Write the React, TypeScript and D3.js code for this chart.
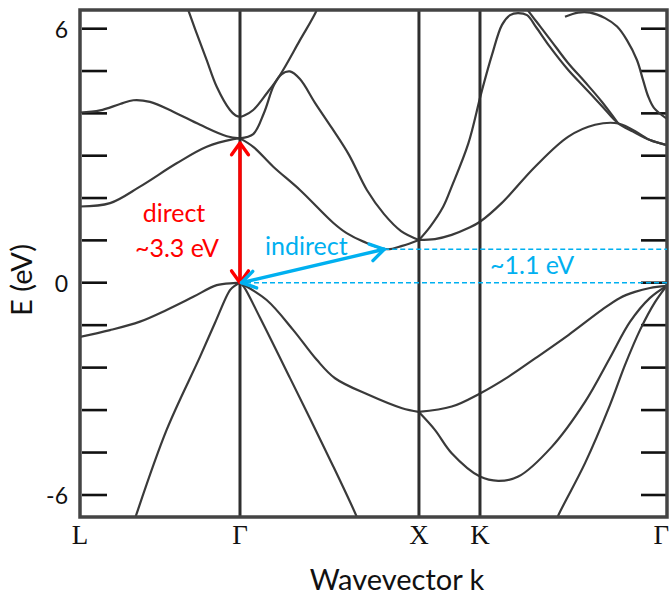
import React from "react";
import * as d3 from "d3";

// High-symmetry points along the k-path (Γ–X distance = 1)
const kLabels = ["L", "Γ", "X", "K", "Γ"];
const kPositions = [0, 0.894, 1.894, 2.235, 3.28];

// Energy axis ticks (eV) and their printed labels
const energyTicks = [6, 5, 4, 3, 2, 1, 0, -1.2, -2.4, -3.6, -4.8, -6];
const energyTickLabels = ["6", "", "", "", "", "", "0", "", "", "", "", "-6"];

// Conduction bands, [k, E] pairs
const condL1: number[][] = [[0, 1.8], [0.168, 1.88], [0.335, 2.27], [0.54, 2.82], [0.708, 3.21], [0.857, 3.39], [0.894, 3.41]];
const condL2: number[][] = [[0, 4.02], [0.112, 4.07], [0.224, 4.22], [0.298, 4.31], [0.391, 4.27], [0.521, 4.04], [0.671, 3.73], [0.82, 3.46], [0.894, 3.41]];
const condGamma2: number[][] = [[0.575, 6.8], [0.605, 6.44], [0.652, 5.89], [0.708, 5.26], [0.764, 4.63], [0.838, 4.08], [0.87, 3.95], [0.894, 3.92], [0.918, 3.95], [0.968, 4.08], [1.043, 4.47], [1.117, 4.9], [1.229, 5.73], [1.323, 6.44], [1.35, 6.8]];
const condHump: number[][] = [[0.894, 3.41], [0.968, 3.51], [1.028, 4.01], [1.084, 4.67], [1.128, 4.93], [1.173, 4.99], [1.229, 4.81], [1.313, 4.25], [1.408, 3.65], [1.503, 3.02], [1.603, 2.19], [1.699, 1.62], [1.794, 1.22], [1.894, 1.01]];
const condLowGX: number[][] = [[0.894, 3.41], [0.968, 3.21], [1.08, 2.74], [1.229, 2.19], [1.416, 1.41], [1.49, 1.17], [1.584, 0.97], [1.715, 0.79], [1.8, 0.87], [1.894, 1.01]];
const condLowXG: number[][] = [[1.894, 1.01], [1.983, 1.03], [2.077, 1.13], [2.17, 1.29], [2.235, 1.44], [2.356, 1.88], [2.543, 2.74], [2.729, 3.45], [2.878, 3.73], [3.009, 3.76], [3.129, 3.51], [3.185, 3.37], [3.28, 3.25]];
const condSteep: number[][] = [[1.894, 1.01], [1.956, 1.32], [2.03, 1.8], [2.077, 2.27], [2.17, 3.29], [2.241, 4.46], [2.302, 5.38], [2.358, 6.09], [2.403, 6.32], [2.447, 6.37], [2.498, 6.32], [2.548, 6.04], [2.626, 5.57], [2.727, 5.03], [2.822, 4.6], [2.917, 4.17], [3.006, 3.77], [3.09, 3.57], [3.185, 3.37], [3.28, 3.25]];
const condSteep2: number[][] = [[2.47, 6.63], [2.514, 6.37], [2.57, 6.06], [2.637, 5.69], [2.727, 5.19], [2.822, 4.74], [2.917, 4.27], [3.006, 3.77]];
const condTop: number[][] = [[2.71, 6.28], [2.783, 6.38], [2.85, 6.38], [2.934, 6.25], [3.001, 6.05], [3.056, 5.73], [3.112, 5.26], [3.146, 4.79], [3.174, 4.41], [3.207, 4.13], [3.28, 3.87]];

// Valence bands, [k, E] pairs
const valHeavyL: number[][] = [[0, -1.53], [0.168, -1.34], [0.335, -1.1], [0.484, -0.77], [0.633, -0.4], [0.764, -0.07], [0.857, -0.01], [0.894, 0]];
const valLightL: number[][] = [[0.268, -7.3], [0.317, -6.52], [0.484, -4.16], [0.671, -2.09], [0.754, -1.14], [0.838, -0.21], [0.866, -0.08], [0.894, 0]];
const valHeavyGX: number[][] = [[0.894, 0], [1.043, -0.49], [1.192, -1.34], [1.323, -2.18], [1.425, -2.7], [1.612, -3.17], [1.8, -3.55], [1.892, -3.65]];
const valLightGX: number[][] = [[0.894, 0], [0.916, -0.12], [1.006, -0.99], [1.173, -2.69], [1.416, -5.2], [1.546, -6.61], [1.576, -7.0]];
const valUpperXG: number[][] = [[1.892, -3.65], [2.077, -3.5], [2.235, -3.13], [2.393, -2.66], [2.543, -2.14], [2.729, -1.48], [2.916, -0.77], [3.017, -0.43], [3.101, -0.26], [3.185, -0.15], [3.278, -0.09]];
const valLowerXG: number[][] = [[1.892, -3.65], [1.983, -4.16], [2.077, -4.82], [2.235, -5.48], [2.337, -5.6], [2.449, -5.48], [2.636, -4.64], [2.822, -3.37], [2.961, -2.13], [3.073, -1.11], [3.185, -0.43], [3.278, -0.09]];
const valDeepXG: number[][] = [[2.626, -7.13], [2.673, -6.57], [2.822, -5.1], [2.961, -3.46], [3.045, -2.33], [3.129, -1.34], [3.213, -0.55], [3.278, -0.09]];

const bands = [
  condL1, condL2, condGamma2, condHump, condLowGX, condLowXG, condSteep, condSteep2, condTop,
  valHeavyL, valLightL, valHeavyGX, valLightGX, valUpperXG, valLowerXG, valDeepXG,
];

// Gap annotations (eV)
const valenceMax = 0;
const directGap = 3.3;
const conductionMinK = 1.7;
const conductionMin = 0.79;

const W = 670;
const H = 595;
const plot = { left: 80, right: 667, top: 10, bottom: 517 };

const x = d3.scaleLinear().domain([0, 3.28]).range([plot.left, plot.right]);
const y = d3.scaleLinear().domain([-6, 0, 6]).range([495, 282.7, 28.7]);

const bandLine = d3
  .line<number[]>()
  .x((d) => x(d[0]))
  .y((d) => y(d[1]))
  .curve(d3.curveCatmullRom.alpha(0.5));

function chevron(tx: number, ty: number, fx: number, fy: number, len: number, half: number) {
  const a = Math.atan2(fy - ty, fx - tx);
  const p1 = [tx + len * Math.cos(a + half), ty + len * Math.sin(a + half)];
  const p2 = [tx + len * Math.cos(a - half), ty + len * Math.sin(a - half)];
  return `M${p1[0]},${p1[1]}L${tx},${ty}L${p2[0]},${p2[1]}`;
}

const sans = "Lato, 'Open Sans', sans-serif";
const serif = "'Liberation Serif', 'DejaVu Serif', serif";
const RED = "#ff0000";
const BLUE = "#00b0f0";
const INK = "#3a3a3a";

export default function App() {
  const gx = x(kPositions[1]);
  const redTop = y(valenceMax + directGap);
  const redBottom = y(valenceMax);
  const blueStart: [number, number] = [x(kPositions[1]) + 1.5, y(valenceMax)];
  const blueEnd: [number, number] = [x(conductionMinK), y(conductionMin)];

  return (
    <svg
      width={W}
      height={H}
      style={{ position: "absolute", left: 0, top: 0, background: "#fff" }}
    >
      <defs>
        <clipPath id="plot-area">
          <rect x={plot.left} y={plot.top} width={plot.right - plot.left} height={plot.bottom - plot.top} />
        </clipPath>
      </defs>

      {/* energy ticks on both sides */}
      {energyTicks.map((t, i) => (
        <g key={i}>
          <line x1={plot.left + 2} x2={plot.left + 27} y1={y(t)} y2={y(t)} stroke="#111" strokeWidth={2.6} />
          <line x1={plot.right - 26} x2={plot.right} y1={y(t)} y2={y(t)} stroke="#111" strokeWidth={2.6} />
          {energyTickLabels[i] && (
            <text
              x={68}
              y={y(t)}
              textAnchor="end"
              dominantBaseline="central"
              fontFamily={sans}
              fontSize={23}
              fill="#111"
            >
              {energyTickLabels[i]}
            </text>
          )}
        </g>
      ))}

      {/* band structure */}
      <g clipPath="url(#plot-area)">
        {bands.map((b, i) => (
          <path key={i} d={bandLine(b) || ""} fill="none" stroke={INK} strokeWidth={2.2} />
        ))}
      </g>

      {/* high-symmetry verticals */}
      {kPositions.slice(1, 4).map((k, i) => (
        <line key={i} x1={x(k)} x2={x(k)} y1={plot.top} y2={plot.bottom} stroke="#2e2e2e" strokeWidth={3} />
      ))}

      {/* frame */}
      <rect
        x={plot.left}
        y={plot.top}
        width={plot.right - plot.left}
        height={plot.bottom - plot.top}
        fill="none"
        stroke="#444"
        strokeWidth={3.5}
      />

      {/* k-point labels */}
      {kLabels.map((lab, i) => {
        const last = i === kLabels.length - 1;
        return (
          <text
            key={i}
            x={last ? W - 1 : x(kPositions[i])}
            y={544}
            textAnchor={last ? "end" : "middle"}
            fontFamily={serif}
            fontSize={27}
            fill="#111"
          >
            {lab}
          </text>
        );
      })}

      {/* axis titles */}
      <text x={397} y={590} textAnchor="middle" fontFamily={sans} fontSize={29} fill="#111">
        Wavevector k
      </text>
      <text
        transform="translate(32,280) rotate(-90)"
        textAnchor="middle"
        fontFamily={sans}
        fontSize={29}
        fill="#111"
      >
        E (eV)
      </text>

      {/* indirect gap dashed guides */}
      <line x1={blueEnd[0]} x2={plot.right} y1={y(conductionMin)} y2={y(conductionMin)} stroke={BLUE} strokeWidth={1.6} strokeDasharray="5 3" />
      <line x1={gx + 6} x2={plot.right} y1={y(valenceMax)} y2={y(valenceMax)} stroke={BLUE} strokeWidth={1.6} strokeDasharray="5 3" />

      {/* direct gap arrow */}
      <g stroke={RED} strokeWidth={3.4} fill="none" strokeLinecap="round" strokeLinejoin="round">
        <line x1={gx} x2={gx} y1={redTop + 1} y2={redBottom - 1} />
        <path d={chevron(gx, redTop, gx, redBottom, 14.5, 0.62)} />
        <path d={chevron(gx, redBottom, gx, redTop, 14.5, 0.62)} />
      </g>

      {/* indirect gap arrow */}
      <g stroke={BLUE} strokeWidth={3.4} fill="none" strokeLinecap="round" strokeLinejoin="round">
        <line x1={blueStart[0]} y1={blueStart[1]} x2={blueEnd[0]} y2={blueEnd[1]} />
        <path d={chevron(blueStart[0], blueStart[1], blueEnd[0], blueEnd[1], 16, 0.56)} />
        <path d={chevron(blueEnd[0], blueEnd[1], blueStart[0], blueStart[1], 16, 0.56)} />
      </g>

      {/* annotations */}
      <text x={174} y={222} textAnchor="middle" fontFamily={sans} fontSize={25} fill={RED}>
        direct
      </text>
      <text x={177} y={257} textAnchor="middle" fontFamily={sans} fontSize={25} fill={RED}>
        ~3.3 eV
      </text>
      <text x={265} y={255} fontFamily={sans} fontSize={25} fill={BLUE}>
        indirect
      </text>
      <text x={490} y={274} fontFamily={sans} fontSize={25} fill={BLUE}>
        ~1.1 eV
      </text>
    </svg>
  );
}
